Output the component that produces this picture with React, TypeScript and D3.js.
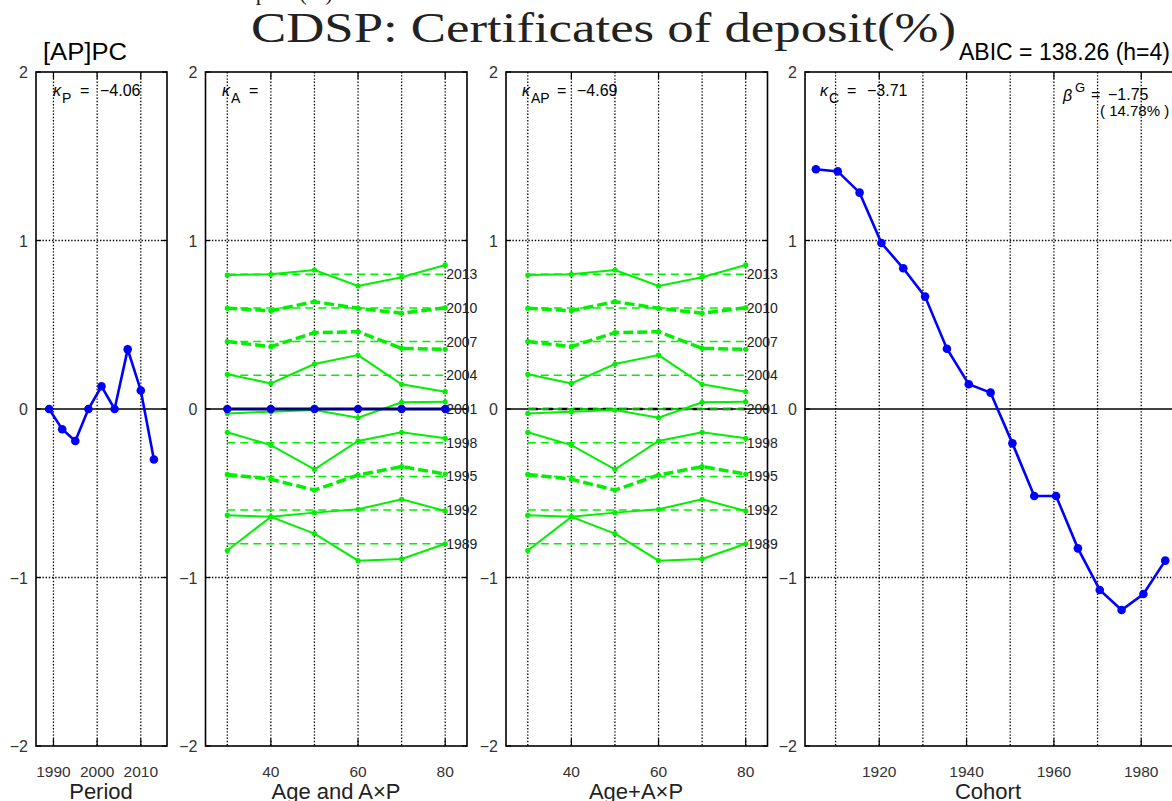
import React from "react";
import * as d3 from "d3";

// period effect
const periods = [1989, 1992, 1995, 1998, 2001, 2004, 2007, 2010, 2013];
const periodEffect = [0, -0.12, -0.19, 0, 0.135, 0, 0.354, 0.11, -0.3];

// age effect
const ages = [30, 40, 50, 60, 70, 80];
const ageEffect = [0, 0, 0, 0, 0, 0];

// A×P rows as drawn (each row shifted by its period offset)
const apOffsets = [-0.8, -0.6, -0.4, -0.2, 0, 0.2, 0.4, 0.6, 0.8];
const ap1989 = [-0.84, -0.64, -0.74, -0.9, -0.89, -0.8];
const ap1992 = [-0.63, -0.64, -0.615, -0.595, -0.536, -0.605];
const ap1995 = [-0.388, -0.417, -0.481, -0.392, -0.342, -0.386];
const ap1998 = [-0.138, -0.214, -0.358, -0.19, -0.138, -0.174];
const ap2001 = [-0.026, -0.016, -0.006, -0.052, 0.04, 0.043];
const ap2004 = [0.206, 0.152, 0.267, 0.32, 0.147, 0.103];
const ap2007 = [0.4, 0.37, 0.453, 0.459, 0.36, 0.354];
const ap2010 = [0.598, 0.583, 0.637, 0.598, 0.568, 0.601];
const ap2013 = [0.795, 0.799, 0.825, 0.73, 0.782, 0.855];
const apRows = [ap1989, ap1992, ap1995, ap1998, ap2001, ap2004, ap2007, ap2010, ap2013];
const dashedPeriods = [1995, 2007, 2010];

// cohort effect
const cohorts = [1905.5, 1910.5, 1915.5, 1920.5, 1925.5, 1930.5, 1935.5, 1940.5, 1945.5,
  1950.5, 1955.5, 1960.5, 1965.5, 1970.5, 1975.5, 1980.5, 1985.5];
const cohortEffect = [1.423, 1.41, 1.284, 0.985, 0.835, 0.667, 0.358, 0.147, 0.097,
  -0.204, -0.516, -0.516, -0.827, -1.074, -1.193, -1.098, -0.9];

const yTicks = [-2, -1, 0, 1, 2];
const periodTicks = [1990, 2000, 2010];
const ageTicks = [40, 60, 80];
const ageGrid = [30, 40, 50, 60, 70, 80];
const cohortTicks = [1920, 1940, 1960, 1980];
const cohortGrid = [1910, 1920, 1930, 1940, 1950, 1960, 1970, 1980];

const SANS = "Liberation Sans, Arial, sans-serif";
const SERIF = "Liberation Serif, DejaVu Serif, serif";
const GREEN = "#00f000";
const TOP = 72;
const BOT = 746;
const Y = d3.scaleLinear().domain([-2, 2]).range([BOT, TOP]);

type Sc = d3.ScaleLinear<number, number>;

function Frame({ X, grid, ticks, title, titleX }: { X: Sc; grid: number[]; ticks: number[]; title: string; titleX: number }) {
  const [x0, x1] = X.range();
  return (
    <g>
      {grid.map((g) => (
        <line key={"g" + g} x1={X(g)} x2={X(g)} y1={TOP} y2={BOT} stroke="#000" strokeWidth={1.3} strokeDasharray="1.4,1.8" />
      ))}
      {[-1, 1].map((v) => (
        <line key={"h" + v} x1={x0} x2={x1} y1={Y(v)} y2={Y(v)} stroke="#000" strokeWidth={1.3} strokeDasharray="1.4,1.8" />
      ))}
      <line x1={x0} x2={x1} y1={Y(0)} y2={Y(0)} stroke="#000" strokeWidth={1.6} />
      {yTicks.map((v) => (
        <g key={"yt" + v}>
          <line x1={x0} x2={x0 + 5} y1={Y(v)} y2={Y(v)} stroke="#000" strokeWidth={1.2} />
          <line x1={x1} x2={x1 - 5} y1={Y(v)} y2={Y(v)} stroke="#000" strokeWidth={1.2} />
          <text x={x0 - 8} y={Y(v) + 6} textAnchor="end" fontFamily={SANS} fontSize={16} fill="#333">
            {v < 0 ? "\u2212" + Math.abs(v) : String(v)}
          </text>
        </g>
      ))}
      {ticks.map((t) => (
        <g key={"xt" + t}>
          <line x1={X(t)} x2={X(t)} y1={BOT} y2={BOT - 7} stroke="#000" strokeWidth={1.2} />
          <line x1={X(t)} x2={X(t)} y1={TOP} y2={TOP + 7} stroke="#000" strokeWidth={1.2} />
          <text x={X(t)} y={777} textAnchor="middle" fontFamily={SANS} fontSize={15.5} fill="#333">{t}</text>
        </g>
      ))}
      <rect x={x0} y={TOP} width={x1 - x0} height={BOT - TOP} fill="none" stroke="#000" strokeWidth={1.6} />
      <text x={titleX} y={799} textAnchor="middle" fontFamily={SANS} fontSize={22} fill="#222">{title}</text>
    </g>
  );
}

function Kappa({ x, sub, value }: { x: number; sub: string; value: string }) {
  return (
    <g fontFamily={SANS} fill="#000">
      <text x={x} y={96} fontSize={16} fontStyle="italic">κ</text>
      <text x={x + 9} y={103} fontSize={14}>{sub}</text>
      <text x={x + 19 + sub.length * 8} y={96} fontSize={16}>=</text>
      <text x={x + 39 + sub.length * 8} y={96} fontSize={16}>{value}</text>
    </g>
  );
}

function APLines({ X }: { X: Sc }) {
  const line = d3.line<number>().x((_, i) => X(ages[i])).y((d) => Y(d));
  return (
    <g>
      {apOffsets.map((o, i) => (
        <line key={"ref" + i} x1={X(ages[0])} x2={X(ages[ages.length - 1])} y1={Y(o)} y2={Y(o)}
          stroke={GREEN} strokeWidth={1.5} strokeDasharray="8,5" />
      ))}
      {apRows.map((row, i) => {
        const dashed = dashedPeriods.includes(periods[i]);
        return (
          <g key={"ap" + i}>
            <path d={line(row) || ""} fill="none" stroke={GREEN} strokeWidth={dashed ? 3.5 : 2}
              strokeDasharray={dashed ? "10,4" : undefined} />
            {row.map((v, j) => (
              <circle key={j} cx={X(ages[j])} cy={Y(v)} r={2.6} fill={GREEN} />
            ))}
          </g>
        );
      })}
      {periods.map((p, i) => (
        <text key={"pl" + p} x={X(ages[ages.length - 1]) + 1} y={Y(apOffsets[i]) + 5} fontFamily={SANS}
          fontSize={14} fill="#222">{p}</text>
      ))}
    </g>
  );
}

export default function App() {
  const XP = d3.scaleLinear().domain([1986, 2016]).range([36, 167]);
  const XA = d3.scaleLinear().domain([25, 85]).range([205.5, 467]);
  const XAP = d3.scaleLinear().domain([25, 85]).range([506, 767.5]);
  const XC = d3.scaleLinear().domain([1903, 1993]).range([805, 1198]);

  const pLine = d3.line<number>().x((_, i) => XP(periods[i])).y((d) => Y(d));
  const aLine = d3.line<number>().x((_, i) => XA(ages[i])).y((d) => Y(d));
  const apLine = d3.line<number>().x((_, i) => XAP(ages[i])).y((d) => Y(d));
  const cLine = d3.line<number>().x((_, i) => XC(cohorts[i])).y((d) => Y(d));

  return (
    <svg width={1172} height={801} style={{ position: "absolute", left: 0, top: 0, background: "#fff" }}>
      <rect width={1172} height={801} fill="#fff" />
      {/* top titles */}
      <text x={333} y={0} textAnchor="end" fontFamily={SERIF} fontSize={24} fill="#222"
        textLength={300} lengthAdjust="spacingAndGlyphs">CDSP: Certificates of deposit(%)</text>
      <text x={251} y={42} fontFamily={SERIF} fontSize={42} fill="#222"
        textLength={705} lengthAdjust="spacingAndGlyphs">CDSP: Certificates of deposit(%)</text>
      <text x={43} y={60} fontFamily={SANS} fontSize={23} fill="#000" textLength={84}
        lengthAdjust="spacingAndGlyphs">[AP]PC</text>
      <text x={1170} y={60} textAnchor="end" fontFamily={SANS} fontSize={23} fill="#000">ABIC = 138.26 (h=4)</text>

      {/* period */}
      <Frame X={XP} grid={periodTicks} ticks={periodTicks} title="Period" titleX={101} />
      <path d={pLine(periodEffect) || ""} fill="none" stroke="#0000ff" strokeWidth={2.6} />
      {periodEffect.map((v, i) => (
        <circle key={"p" + i} cx={XP(periods[i])} cy={Y(v)} r={4.3} fill="#0000ff" />
      ))}
      <Kappa x={53} sub="P" value={"\u22124.06"} />

      {/* age and A×P */}
      <Frame X={XA} grid={ageGrid} ticks={ageTicks} title="Age and A×P" titleX={336} />
      <APLines X={XA} />
      <path d={aLine(ageEffect) || ""} fill="none" stroke="#000080" strokeWidth={3} />
      {ageEffect.map((v, i) => (
        <circle key={"a" + i} cx={XA(ages[i])} cy={Y(v)} r={4.2} fill="#0000dd" />
      ))}
      <Kappa x={222} sub="A" value="" />

      {/* age + A×P */}
      <Frame X={XAP} grid={ageGrid} ticks={ageTicks} title="Age+A×P" titleX={636} />
      <path d={apLine(ageEffect) || ""} fill="none" stroke="#000" strokeWidth={2.6} strokeDasharray="10,5" />
      <APLines X={XAP} />
      <Kappa x={522} sub="AP" value={"\u22124.69"} />

      {/* cohort */}
      <Frame X={XC} grid={cohortGrid} ticks={cohortTicks} title="Cohort" titleX={988} />
      <path d={cLine(cohortEffect) || ""} fill="none" stroke="#0000ff" strokeWidth={2.6} />
      {cohortEffect.map((v, i) => (
        <circle key={"c" + i} cx={XC(cohorts[i])} cy={Y(v)} r={4.3} fill="#0000ff" />
      ))}
      <Kappa x={820} sub="C" value={"\u22123.71"} />
      <g fontFamily={SANS} fill="#000">
        <text x={1063} y={101} fontSize={16} fontStyle="italic">β</text>
        <text x={1075} y={92} fontSize={13}>G</text>
        <text x={1091} y={100} fontSize={16}>=</text>
        <text x={1108} y={100} fontSize={16}>{"\u22121.75"}</text>
        <text x={1100} y={116} fontSize={15}>( 14.78% )</text>
      </g>
    </svg>
  );
}
